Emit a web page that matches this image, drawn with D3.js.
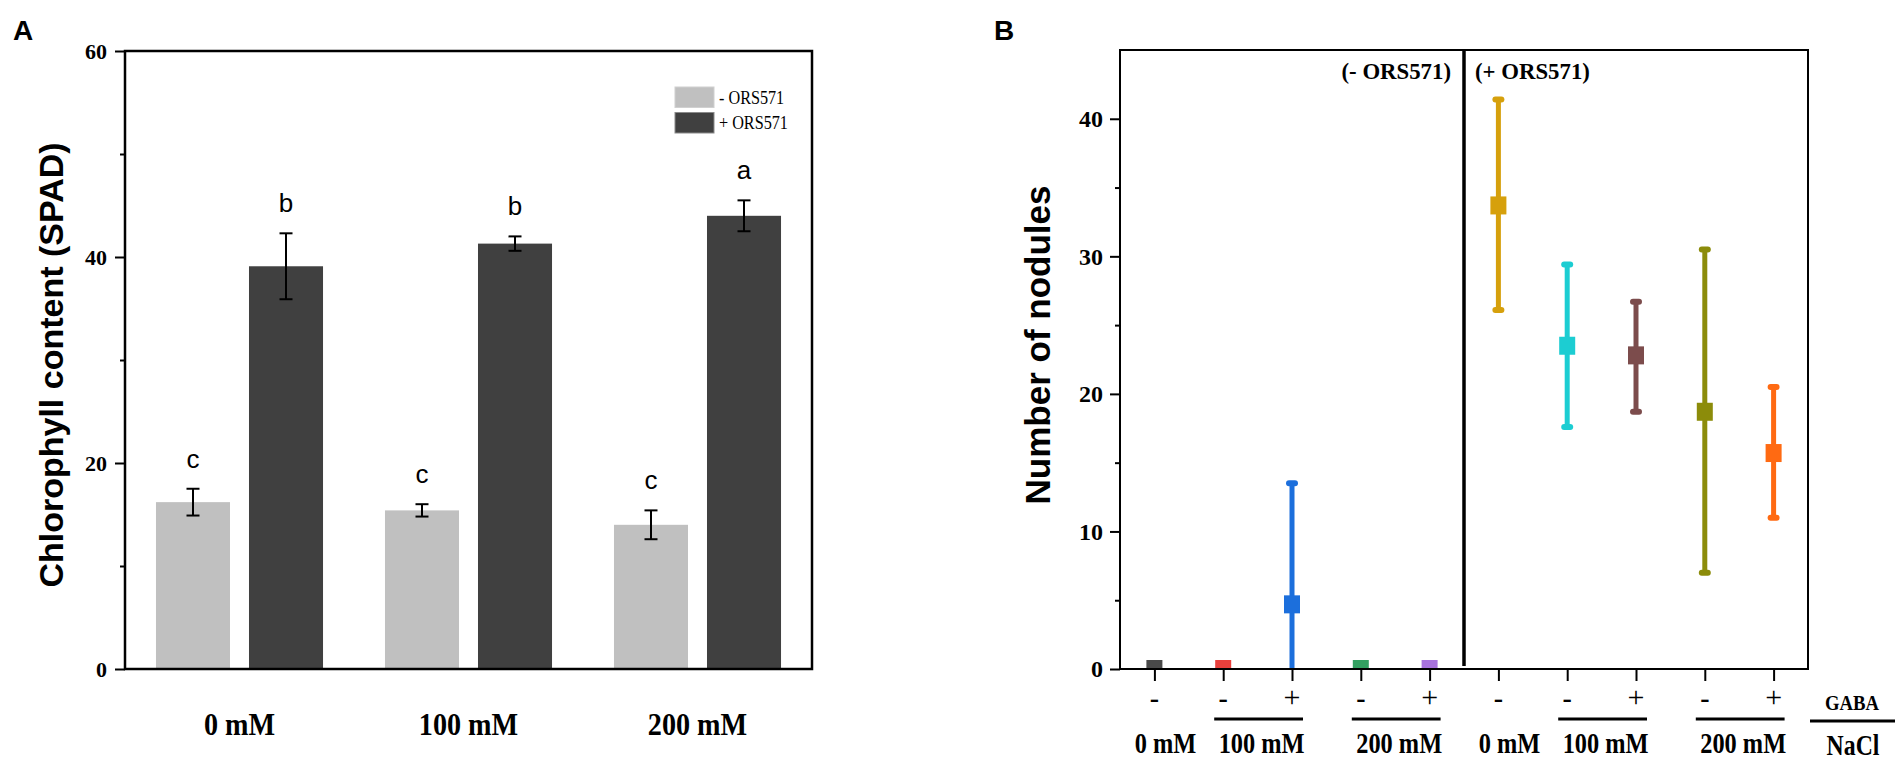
<!DOCTYPE html>
<html>
<head>
<meta charset="utf-8">
<script src="https://cdn.jsdelivr.net/npm/d3@7"></script>
<style>
  body { margin: 0; background: #fff; }
  svg { display: block; }
</style>
</head>
<body>
<div id="chart"></div>
<script>
// ---- Panel A: chlorophyll content ----
const saltLevels = ["0 mM", "100 mM", "200 mM"]
const inoculation = ["- ORS571", "+ ORS571"]
const chlMinus = [16.2, 15.4, 14.0]
const chlMinusErr = [1.3, 0.6, 1.4]
const chlPlus = [39.1, 41.3, 44.0]
const chlPlusErr = [3.2, 0.7, 1.5]
const lettersMinus = ["c", "c", "c"]
const lettersPlus = ["b", "b", "a"]
const ticksA = [0, 20, 40, 60]
const minorTicksA = [10, 30, 50]

// ---- Panel B: number of nodules ----
const orsOfTreatment = ["-", "-", "-", "-", "-", "+", "+", "+", "+", "+"]
const naclOfTreatment = ["0 mM", "100 mM", "100 mM", "200 mM", "200 mM", "0 mM", "100 mM", "100 mM", "200 mM", "200 mM"]
const gabaSigns = ["-", "-", "+", "-", "+", "-", "-", "+", "-", "+"]
const nodMean = [0, 0, 4.7, 0, 0, 33.7, 23.5, 22.8, 18.7, 15.7]
const nodLow = [0, 0, 0, 0, 0, 26.1, 17.6, 18.7, 7.0, 11.0]
const nodHigh = [0, 0, 13.5, 0, 0, 41.4, 29.4, 26.7, 30.5, 20.5]
const nodColors = ["#4a4a4a", "#e8403c", "#1c6fdc", "#33a061", "#a873dd",
                   "#d6a00c", "#1ccdd2", "#7c4c4c", "#8c8c0a", "#ff6a12"]
const ticksB = [0, 10, 20, 30, 40]
const minorTicksB = [5, 15, 25, 35]

const SERIF = "'Liberation Serif', 'Times New Roman', serif"
const SANS = "'Liberation Sans', Arial, sans-serif"

const svg = d3.select("#chart").append("svg")
  .attr("width", 1904)
  .attr("height", 762)

// text helper, sx squeezes the glyphs horizontally
function label(g, x, y, txt, o) {
  return g.append("text")
    .attr("transform", `translate(${x},${y}) scale(${o.sx || 1},1)`)
    .attr("text-anchor", o.anchor || "middle")
    .attr("font-family", o.family || SERIF)
    .attr("font-weight", o.weight || "bold")
    .attr("font-size", o.size + "px")
    .attr("fill", "#000")
    .text(txt)
}

/* ===================== Panel A ===================== */
const gA = svg.append("g")

const xA = d3.scaleBand()
  .domain(saltLevels)
  .range([125, 812])
  .padding(0)

const xA1 = d3.scaleBand()
  .domain(inoculation)
  .range([0, xA.bandwidth()])
  .paddingInner(0.204)
  .paddingOuter(0.333)

const yA = d3.scaleLinear()
  .domain([0, 60])
  .range([669, 51])

const rowsA = saltLevels.flatMap((s, i) => [
  { salt: s, ors: inoculation[0], v: chlMinus[i], e: chlMinusErr[i], letter: lettersMinus[i] },
  { salt: s, ors: inoculation[1], v: chlPlus[i], e: chlPlusErr[i], letter: lettersPlus[i] }
])
const fillA = d3.scaleOrdinal().domain(inoculation).range(["#c0c0c0", "#404040"])

gA.selectAll("rect.bar")
  .data(rowsA)
  .enter().append("rect")
    .attr("class", "bar")
    .attr("x", d => xA(d.salt) + xA1(d.ors))
    .attr("y", d => yA(d.v))
    .attr("width", xA1.bandwidth())
    .attr("height", d => yA(0) - yA(d.v))
    .attr("fill", d => fillA(d.ors))

// error bars
const errA = gA.selectAll("g.err")
  .data(rowsA)
  .enter().append("g")
    .attr("class", "err")
    .attr("transform", d => `translate(${xA(d.salt) + xA1(d.ors) + xA1.bandwidth() / 2},0)`)
errA.append("line")
  .attr("y1", d => yA(d.v - d.e)).attr("y2", d => yA(d.v + d.e))
  .attr("stroke", "#000").attr("stroke-width", 2)
errA.selectAll("line.cap")
  .data(d => [d.v - d.e, d.v + d.e])
  .enter().append("line")
    .attr("class", "cap")
    .attr("x1", -6.5).attr("x2", 6.5)
    .attr("y1", d => yA(d)).attr("y2", d => yA(d))
    .attr("stroke", "#000").attr("stroke-width", 2)

// significance letters
rowsA.forEach(d => {
  label(gA, xA(d.salt) + xA1(d.ors) + xA1.bandwidth() / 2, yA(d.v + d.e) - 21, d.letter,
    { family: SANS, weight: "normal", size: 26 })
})

// axis box and ticks
gA.append("rect")
  .attr("x", 125).attr("y", 51)
  .attr("width", 812 - 125).attr("height", 669 - 51)
  .attr("fill", "none").attr("stroke", "#000").attr("stroke-width", 2.5)

const yAxisA = gA.append("g")
  .attr("transform", "translate(125,0)")
  .call(d3.axisLeft(yA).tickValues(ticksA).tickSize(10).tickPadding(8).tickFormat(d3.format("d")))
yAxisA.select(".domain").remove()
yAxisA.selectAll("line").attr("stroke-width", 2)
yAxisA.selectAll("text")
  .attr("font-family", SERIF).attr("font-weight", "bold").attr("font-size", "22px")

const yMinorA = gA.append("g")
  .attr("transform", "translate(125,0)")
  .call(d3.axisLeft(yA).tickValues(minorTicksA).tickSize(5).tickFormat(""))
yMinorA.select(".domain").remove()
yMinorA.selectAll("line").attr("stroke-width", 2)

saltLevels.forEach(s => {
  label(gA, xA(s) + xA.bandwidth() / 2, 735, s, { size: 32, sx: 0.88 })
})

label(gA, 63, 365, "Chlorophyll content (SPAD)", { family: SANS, size: 34 })
  .attr("transform", "translate(63,365) rotate(-90)")

label(gA, 13, 40, "A", { family: SANS, size: 28, anchor: "start" })

// legend
const legA = gA.append("g")
inoculation.forEach((k, i) => {
  legA.append("rect")
    .attr("x", 675).attr("y", 87 + i * 25.5)
    .attr("width", 39).attr("height", 20.5)
    .attr("fill", fillA(k))
    .attr("stroke", i === 0 ? "#d0d0d0" : "#8a8a8a").attr("stroke-width", 1)
  label(legA, 719, 104 + i * 25, k, { weight: "normal", size: 18, sx: 0.9, anchor: "start" })
})

/* ===================== Panel B ===================== */
const gB = svg.append("g")
const idx = d3.range(nodMean.length)

const xB = d3.scalePoint()
  .domain(idx)
  .range([1120, 1808])
  .padding(0.5)

const yB = d3.scaleLinear()
  .domain([0, 45])
  .range([669, 50])

svg.append("clipPath").attr("id", "clipB")
  .append("rect").attr("x", 1120).attr("y", 50).attr("width", 688).attr("height", 619)

const plotB = gB.append("g").attr("clip-path", "url(#clipB)")

const withErr = idx.filter(i => nodHigh[i] > nodLow[i])
plotB.selectAll("line.errB")
  .data(withErr)
  .enter().append("line")
    .attr("class", "errB")
    .attr("x1", i => xB(i)).attr("x2", i => xB(i))
    .attr("y1", i => yB(nodLow[i])).attr("y2", i => yB(nodHigh[i]))
    .attr("stroke", i => nodColors[i]).attr("stroke-width", 5)

const caps = withErr.flatMap(i => [{ i, v: nodHigh[i] }].concat(nodLow[i] > 0 ? [{ i, v: nodLow[i] }] : []))
plotB.selectAll("line.capB")
  .data(caps)
  .enter().append("line")
    .attr("class", "capB")
    .attr("x1", d => xB(d.i) - 3).attr("x2", d => xB(d.i) + 3)
    .attr("y1", d => yB(d.v)).attr("y2", d => yB(d.v))
    .attr("stroke", d => nodColors[d.i]).attr("stroke-width", 6)
    .attr("stroke-linecap", "round")

plotB.selectAll("rect.mark")
  .data(idx)
  .enter().append("rect")
    .attr("class", "mark")
    .attr("x", i => xB(i) - 8)
    .attr("y", i => yB(nodMean[i]) - 9)
    .attr("width", 16).attr("height", 18)
    .attr("fill", i => nodColors[i])

// box, divider
gB.append("rect")
  .attr("x", 1120).attr("y", 50)
  .attr("width", 688).attr("height", 619)
  .attr("fill", "none").attr("stroke", "#000").attr("stroke-width", 2)

const divX = (xB(4) + xB(5)) / 2
gB.append("line")
  .attr("x1", divX).attr("x2", divX)
  .attr("y1", 50).attr("y2", 666)
  .attr("stroke", "#000").attr("stroke-width", 3.5)

label(gB, divX - 13, 79, "(- ORS571)", { size: 24, sx: 0.95, anchor: "end" })
label(gB, divX + 11, 79, "(+ ORS571)", { size: 24, sx: 0.95, anchor: "start" })

// y axis
const yAxisB = gB.append("g")
  .attr("transform", "translate(1120,0)")
  .call(d3.axisLeft(yB).tickValues(ticksB).tickSize(10).tickPadding(7).tickFormat(d3.format("d")))
yAxisB.select(".domain").remove()
yAxisB.selectAll("line").attr("stroke-width", 2)
yAxisB.selectAll("text")
  .attr("font-family", SERIF).attr("font-weight", "bold").attr("font-size", "24px")

const yMinorB = gB.append("g")
  .attr("transform", "translate(1120,0)")
  .call(d3.axisLeft(yB).tickValues(minorTicksB).tickSize(5).tickFormat(""))
yMinorB.select(".domain").remove()
yMinorB.selectAll("line").attr("stroke-width", 2)

// x axis ticks
const xAxisB = gB.append("g")
  .attr("transform", "translate(0,669)")
  .call(d3.axisBottom(xB).tickSize(12).tickFormat(""))
xAxisB.select(".domain").remove()
xAxisB.selectAll("line").attr("stroke-width", 2)

// GABA signs: thin plus, heavy short minus
idx.forEach(i => {
  const plus = gabaSigns[i] === "+"
  label(gB, xB(i), 707, gabaSigns[i], { weight: plus ? "normal" : "bold", size: plus ? 30 : 28 })
})

// NaCl groups (consecutive runs with same inoculation and salt)
const runs = []
idx.forEach(i => {
  const last = runs[runs.length - 1]
  if (last && last.ors === orsOfTreatment[i] && last.nacl === naclOfTreatment[i]) last.last = i
  else runs.push({ ors: orsOfTreatment[i], nacl: naclOfTreatment[i], first: i, last: i })
})
runs.forEach(r => {
  const mid = (xB(r.first) + xB(r.last)) / 2
  const single = r.first === r.last
  if (!single) {
    gB.append("line")
      .attr("x1", xB(r.first) - 9).attr("x2", xB(r.last) + 11)
      .attr("y1", 719).attr("y2", 719)
      .attr("stroke", "#000").attr("stroke-width", 3)
  }
  label(gB, mid + (single ? 11 : 4), 753, r.nacl, { size: 29, sx: 0.84 })
})

label(gB, 1852, 710, "GABA", { size: 22, sx: 0.85 })
gB.append("line")
  .attr("x1", 1810).attr("x2", 1895)
  .attr("y1", 721).attr("y2", 721)
  .attr("stroke", "#000").attr("stroke-width", 3)
label(gB, 1853, 755, "NaCl", { size: 29, sx: 0.82 })

label(gB, 1050, 345, "Number of nodules", { family: SANS, size: 35 })
  .attr("transform", "translate(1050,345) rotate(-90)")

label(gB, 994, 40, "B", { family: SANS, size: 28, anchor: "start" })
</script>
</body>
</html>
